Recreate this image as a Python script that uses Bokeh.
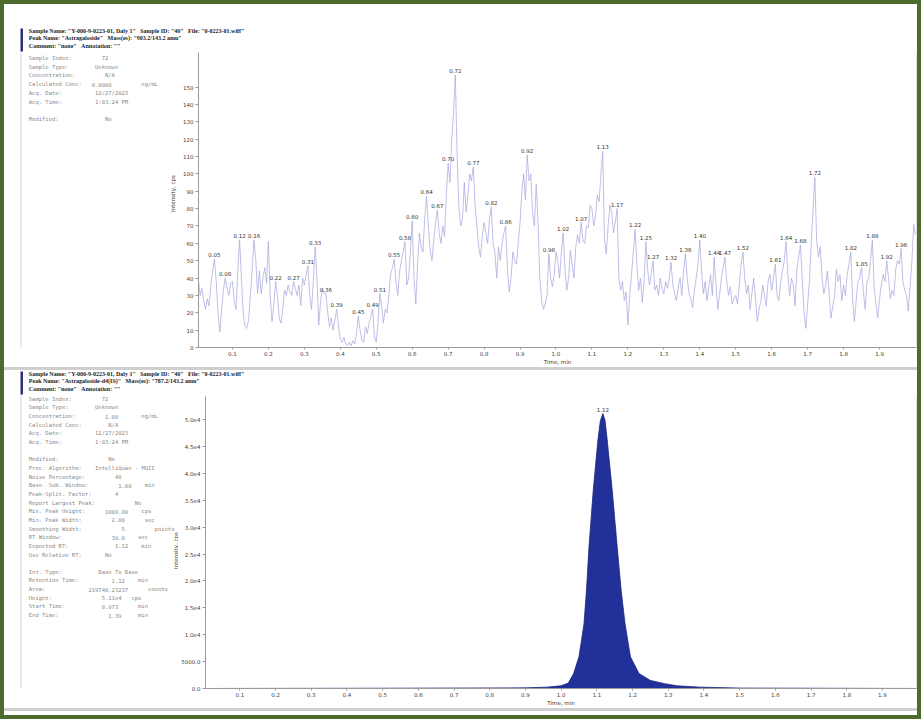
import math
from bokeh.plotting import figure
from bokeh.models import Range1d, FixedTicker, Span, Spacer
from bokeh.layouts import column, row
from bokeh.embed import file_html
from bokeh.resources import INLINE
from bokeh.core.properties import value

# ---------------- data: upper XIC (noise-level trace), 0.005 min sampling ----------------
SAMPLE_STEP = 0.005
r00 = [52, 40, 30, 34, 27, 22, 28, 24, 36, 44, 51, 38, 20, 9, 22, 33, 40, 34, 30, 37]
r01 = [38, 27, 22, 45, 62, 40, 20, 12, 11, 16, 30, 45, 62, 50, 31, 44, 31, 40, 46, 37]
r02 = [61, 30, 15, 24, 38, 30, 17, 14, 22, 33, 30, 36, 32, 30, 38, 34, 30, 36, 24, 40]
r03 = [36, 42, 47, 30, 22, 38, 58, 40, 13, 26, 34, 31, 31, 20, 12, 17, 10, 16, 22, 12]
r04 = [5, 3, 6, 2, 1, 3, 1, 4, 2, 8, 18, 10, 4, 3, 12, 8, 14, 18, 22, 6]
r05 = [3, 14, 31, 24, 14, 22, 20, 30, 42, 46, 51, 38, 30, 44, 50, 55, 61, 36, 40, 55]
r06 = [73, 40, 25, 48, 66, 58, 55, 75, 87, 70, 56, 50, 62, 72, 79, 66, 60, 70, 64, 88]
r07 = [106, 95, 120, 135, 157, 110, 80, 70, 74, 95, 78, 88, 100, 96, 104, 82, 70, 58, 52, 64]
r08 = [72, 66, 60, 74, 81, 60, 55, 40, 58, 50, 60, 66, 70, 45, 32, 40, 55, 50, 48, 60]
r09 = [72, 90, 100, 85, 111, 96, 100, 78, 70, 94, 72, 40, 27, 22, 25, 30, 54, 40, 35, 42]
r10 = [55, 50, 40, 55, 66, 45, 33, 40, 56, 48, 40, 58, 65, 60, 72, 62, 60, 70, 69, 82]
r11 = [80, 70, 76, 88, 84, 100, 113, 62, 54, 70, 82, 78, 66, 72, 80, 40, 33, 38, 27, 32]
r12 = [13, 30, 42, 55, 68, 48, 33, 40, 26, 38, 61, 45, 36, 42, 50, 33, 36, 30, 40, 34]
r13 = [31, 38, 34, 40, 49, 36, 31, 27, 35, 40, 30, 44, 54, 40, 31, 28, 23, 33, 40, 48]
r14 = [62, 44, 31, 38, 27, 35, 42, 30, 52, 36, 22, 30, 40, 46, 52, 38, 30, 35, 25, 28]
r15 = [30, 25, 36, 48, 55, 40, 31, 36, 22, 31, 40, 28, 15, 22, 27, 36, 30, 24, 38, 42]
r16 = [33, 40, 48, 30, 27, 38, 44, 50, 61, 42, 30, 40, 36, 24, 45, 52, 59, 40, 20, 11]
r17 = [25, 38, 60, 80, 98, 62, 52, 58, 40, 31, 36, 44, 30, 17, 24, 30, 45, 38, 42, 27]
r18 = [36, 30, 42, 48, 55, 28, 15, 27, 38, 40, 46, 32, 22, 38, 40, 50, 62, 35, 25, 17]
r19 = [28, 36, 42, 38, 50, 40, 28, 33, 30, 45, 50, 48, 57, 38, 33, 30, 21, 35, 50, 71]
r_end = [65]
trace_cps = (r00 + r01 + r02 + r03 + r04 + r05 + r06 + r07 + r08 + r09 + r10 +
             r11 + r12 + r13 + r14 + r15 + r16 + r17 + r18 + r19 + r_end)
trace_time = [round(i * SAMPLE_STEP, 3) for i in range(len(trace_cps))]

top_peak_labels = ["0.05", "0.08", "0.12", "0.16", "0.22", "0.27", "0.31", "0.33", "0.36",
                   "0.39", "0.45", "0.49", "0.51", "0.55", "0.58", "0.60", "0.64", "0.67",
                   "0.70", "0.72", "0.77", "0.82", "0.86", "0.92", "0.98", "1.02", "1.07",
                   "1.13", "1.17", "1.22", "1.25", "1.27", "1.32", "1.36", "1.40", "1.44",
                   "1.47", "1.52", "1.61", "1.64", "1.68", "1.72", "1.82", "1.85", "1.88",
                   "1.92", "1.96"]
top_peak_rt = [float(s) for s in top_peak_labels]
top_peak_cps = [trace_cps[int(round(t / SAMPLE_STEP))] for t in top_peak_rt]

top_y_ticks = [0, 10, 20, 30, 40, 50, 60, 70, 80, 90, 100, 110, 120, 130, 140, 150]

# ---------------- data: lower XIC (internal standard peak) ----------------
is_time = [0.00, 0.50, 0.90, 0.96, 1.00, 1.02, 1.035, 1.05, 1.064, 1.071, 1.078, 1.09, 1.103,
           1.110, 1.117, 1.123, 1.129, 1.143, 1.157, 1.168, 1.179, 1.194, 1.218, 1.25, 1.29,
           1.324, 1.39, 1.50, 2.00]
is_cps = [0, 50, 120, 250, 500, 1000, 2800, 5900, 12000, 18300, 26300, 36900, 46200,
          49800, 51100, 49800, 46200, 36900, 26300, 18300, 12000, 5900, 2800, 1500, 900,
          500, 250, 80, 0]
is_peak_label = "1.12"
is_peak_rt = 1.117
is_peak_cps = 51100

bottom_y_ticks = [0, 5000, 10000, 15000, 20000, 25000, 30000, 35000, 40000, 45000, 50000]
bottom_y_labels = ["0.0", "5000.0", "1.0e4", "1.5e4", "2.0e4", "2.5e4", "3.0e4", "3.5e4",
                   "4.0e4", "4.5e4", "5.0e4"]

x_ticks = [0.1, 0.2, 0.3, 0.4, 0.5, 0.6, 0.7, 0.8, 0.9, 1.0, 1.1, 1.2, 1.3, 1.4, 1.5,
           1.6, 1.7, 1.8, 1.9]
x_tick_labels = ["0.1", "0.2", "0.3", "0.4", "0.5", "0.6", "0.7", "0.8", "0.9", "1.0",
                 "1.1", "1.2", "1.3", "1.4", "1.5", "1.6", "1.7", "1.8", "1.9"]

Y_TITLE = "Intensity, cps"
X_TITLE = "Time, min"

# ---------------- texts ----------------
SP = "\u00a0\u00a0\u00a0"
top_header = ['Sample Name: "Y-000-9-0223-01, Daly 1"' + SP + 'Sample ID: "40"' + SP +
              'File: "0-0223-01.wiff"',
              'Peak Name: "Astragaloside"' + SP + 'Mass(es): "903.2/143.2 amu"',
              'Comment: "none"' + SP + 'Annotation: ""']
bottom_header = ['Sample Name: "Y-000-9-0223-01, Daly 1"' + SP + 'Sample ID: "40"' + SP +
                 'File: "0-0223-01.wiff"',
                 'Peak Name: "Astragaloside-d4(IS)"' + SP + 'Mass(es): "787.2/143.2 amu"',
                 'Comment: "none"' + SP + 'Annotation: ""']

# each info line: list of (character column, text)
top_info = [
    [(0, "Sample Index:"), (22, "72")],
    [(0, "Sample Type:"), (20, "Unknown")],
    [(0, "Concentration:"), (23, "N/A")],
    [(0, "Calculated Conc:"), (19, "0.0000"), (34, "ng/mL")],
    [(0, "Acq. Date:"), (20, "12/27/2023")],
    [(0, "Acq. Time:"), (20, "1:03:24 PM")],
    [],
    [(0, "Modified:"), (23, "No")],
]
bottom_info = [
    [(0, "Sample Index:"), (22, "72")],
    [(0, "Sample Type:"), (20, "Unknown")],
    [(0, "Concentration:"), (23, "1.00"), (34, "ng/mL")],
    [(0, "Calculated Conc:"), (24, "N/A")],
    [(0, "Acq. Date:"), (20, "12/27/2023")],
    [(0, "Acq. Time:"), (20, "1:03:24 PM")],
    [],
    [(0, "Modified:"), (24, "No")],
    [(0, "Proc. Algorithm:"), (20, "IntelliQuan - MQII")],
    [(0, "Noise Percentage:"), (26, "40")],
    [(0, "Base. Sub. Window:"), (27, "1.00"), (35, "min")],
    [(0, "Peak-Split. Factor:"), (26, "4")],
    [(0, "Report Largest Peak:"), (32, "No")],
    [(0, "Min. Peak Height:"), (23, "1000.00"), (34, "cps")],
    [(0, "Min. Peak Width:"), (25, "2.00"), (35, "sec")],
    [(0, "Smoothing Width:"), (28, "5"), (38, "points")],
    [(0, "RT Window:"), (25, "30.0"), (33, "sec")],
    [(0, "Expected RT:"), (26, "1.12"), (34, "min")],
    [(0, "Use Relative RT:"), (23, "No")],
    [],
    [(0, "Int. Type:"), (21, "Base To Base")],
    [(0, "Retention Time:"), (25, "1.12"), (33, "min")],
    [(0, "Area:"), (18, "219740.23237"), (36, "counts")],
    [(0, "Height:"), (22, "5.11e4"), (31, "cps")],
    [(0, "Start Time:"), (22, "0.973"), (33, "min")],
    [(0, "End Time:"), (24, "1.39"), (33, "min")],
]

# ---------------- styling ----------------
TRACE_COLOR = "#a4a4de"
FILL_COLOR = "#22309a"
INFO_COLOR = "#8a8a8a"
AXIS_COLOR = "#9a9a9a"
BAR_COLOR = "#2e2f7c"
PANE_LINE = "#d6d6d6"
LABEL_FONT = "DejaVu Sans"
MONO_FONT = "DejaVu Sans Mono"
MONO_SIZE = 5.5
CHAR_W = MONO_SIZE * 0.602
W = 913
INFO_W1 = 176
INFO_W2 = 174
AXIS_BOTTOM = 20


def pixel_fig(w, h, top=0, bottom=0):
    f = figure(width=w, height=h, x_range=Range1d(0, w), y_range=Range1d(h - bottom, top),
               output_backend="svg", toolbar_location=None, min_border=0,
               min_border_top=top, min_border_bottom=bottom,
               x_axis_location=None, y_axis_location=None)
    f.grid.visible = False
    f.outline_line_color = None
    f.background_fill_color = "white"
    f.border_fill_color = "white"
    return f


def header_fig(h, lines, y0, bar_top, bar_bottom):
    f = pixel_fig(W, h)
    f.quad(left=[16], right=[17], top=[bar_bottom], bottom=[h], fill_color=PANE_LINE,
           line_color=None)
    f.quad(left=[16], right=[18.5], top=[bar_top], bottom=[bar_bottom], fill_color=BAR_COLOR,
           line_color=None)
    f.text(x=[24.3] * len(lines), y=[y0 + i * 7.5 for i in range(len(lines))], text=lines,
           text_font=value("Liberation Serif"), text_font_style="bold",
           text_font_size="6px", text_color="#222222", text_baseline="middle")
    return f


def info_fig(w, h, lines, y0, dy, ytitle_x, ytitle_y):
    f = pixel_fig(w, h, top=0, bottom=AXIS_BOTTOM)
    f.quad(left=[16], right=[17], top=[0], bottom=[h], fill_color=PANE_LINE, line_color=None)
    xs, ys, ts = [], [], []
    for i, parts in enumerate(lines):
        for col, t in parts:
            xs.append(24.3 + col * CHAR_W)
            ys.append(y0 + i * dy)
            ts.append(t)
    f.text(x=xs, y=ys, text=ts, text_font=value(MONO_FONT), text_font_size=f"{MONO_SIZE}px",
           text_color=INFO_COLOR, text_baseline="middle")
    # y-axis title of the neighbouring chart
    f.text(x=[ytitle_x], y=[ytitle_y], text=[Y_TITLE], angle=math.pi / 2,
           text_font=value(LABEL_FONT), text_font_size="5.5px", text_color="#333333",
           text_align="center", text_baseline="middle")
    return f


def style_axes(p, yticks, ylabels=None):
    p.xaxis.ticker = FixedTicker(ticks=x_ticks)
    p.xaxis.major_label_overrides = {t: l for t, l in zip(x_ticks, x_tick_labels)}
    p.yaxis.ticker = FixedTicker(ticks=yticks)
    if ylabels is not None:
        p.yaxis.major_label_overrides = {t: l for t, l in zip(yticks, ylabels)}
    for ax in (p.xaxis[0], p.yaxis[0]):
        ax.axis_line_color = AXIS_COLOR
        ax.major_tick_line_color = AXIS_COLOR
        ax.minor_tick_line_color = None
        ax.major_tick_out = 3
        ax.major_tick_in = 0
        ax.major_label_text_font_size = "5.5px"
        ax.major_label_text_color = "#444444"
        ax.major_label_text_font = LABEL_FONT
        ax.major_label_standoff = 2
        ax.axis_label_text_font_size = "5.5px"
        ax.axis_label_text_font = LABEL_FONT
        ax.axis_label_text_font_style = "normal"
        ax.axis_label_text_color = "#333333"
    p.xaxis.major_tick_out = 2
    p.xaxis.major_label_standoff = 1
    p.xaxis.axis_label = X_TITLE
    p.xaxis.axis_label_standoff = 0
    p.grid.visible = False
    p.outline_line_color = None
    p.background_fill_color = "white"
    p.border_fill_color = "white"


# ---------------- upper panel ----------------
ROW1_H = 315
h1 = header_fig(48, top_header, 26.3, 24, 47)
i1 = info_fig(INFO_W1, ROW1_H, top_info, 5.3, 8.8, 168, 141)
p1_frame_h = ROW1_H - AXIS_BOTTOM
p1 = figure(width=W - INFO_W1, height=ROW1_H, x_range=Range1d(0.0056, 2.0028),
            y_range=Range1d(0, p1_frame_h / 1.736), output_backend="svg",
            toolbar_location=None, min_border_left=193 - INFO_W1, min_border_right=1,
            min_border_top=0, min_border_bottom=AXIS_BOTTOM)
style_axes(p1, top_y_ticks)
p1.line(trace_time, trace_cps, line_color=TRACE_COLOR, line_width=0.7)
p1.text(x=top_peak_rt, y=top_peak_cps, text=top_peak_labels, text_align="center",
        text_baseline="bottom", y_offset=-2, text_font_size="5.5px", text_color="#333333",
        text_font=value(LABEL_FONT))
p1.add_layout(Span(location=2.0028, dimension="height", line_color="#c8c8c8", line_width=1))

# ---------------- lower panel ----------------
ROW2_H = 312
h2 = header_fig(26, bottom_header, 3.3, 1, 24)
i2 = info_fig(INFO_W2, ROW2_H, bottom_info, 2.3, 8.65, 171, 154)
p2_frame_h = ROW2_H - AXIS_BOTTOM
p2 = figure(width=W - INFO_W2, height=ROW2_H, x_range=Range1d(0.0039, 1.9953),
            y_range=Range1d(0, p2_frame_h * 5000 / 26.9), output_backend="svg",
            toolbar_location=None, min_border_left=201 - INFO_W2, min_border_right=1,
            min_border_top=0, min_border_bottom=AXIS_BOTTOM)
style_axes(p2, bottom_y_ticks, bottom_y_labels)
p2.varea(x=is_time, y1=0, y2=is_cps, fill_color=FILL_COLOR)
p2.line(is_time, is_cps, line_color="#1a2378", line_width=0.8)
p2.text(x=[is_peak_rt], y=[is_peak_cps], text=[is_peak_label], text_align="center",
        text_baseline="bottom", y_offset=-2, text_font_size="5.5px", text_color="#333333",
        text_font=value(LABEL_FONT))
p2.add_layout(Span(location=1.9953, dimension="height", line_color="#c8c8c8", line_width=1))

sep1 = Spacer(width=W, height=3, styles={"background-color": "#cfcfcf"})
sep2 = Spacer(width=W, height=3, styles={"background-color": "#cfcfcf"})
pad = Spacer(width=W, height=4, styles={"background-color": "white"})

layout = column(h1, row(i1, p1, spacing=0), sep1, h2, row(i2, p2, spacing=0), sep2, pad,
                spacing=0, styles={"border": "4px solid #4d6b2e", "background-color": "white"})

open("out.html", "w").write(file_html(layout, INLINE))
